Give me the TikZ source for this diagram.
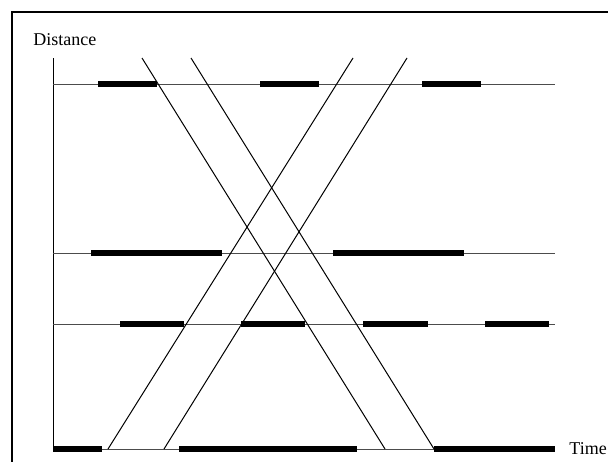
\documentclass[tikz,border=0pt]{standalone}
\usepackage{fontspec}
\setmainfont{Liberation Serif}
\begin{document}
\begin{tikzpicture}[x=0.5pt,y=-0.5pt,
  gridline/.style={line width=0.5pt,draw=black!70},
  bar/.style={line width=3pt},
  ray/.style={line width=0.5pt},
  lbl/.style={font=\fontsize{9}{10}\selectfont,inner sep=0pt}]
\useasboundingbox (0,0) rectangle (608,461);
\clip (0,0) rectangle (608,461);
\draw[line width=1pt] (12,12) rectangle (640,480);
% axis
\draw[ray] (53,58) -- (53,449);
\node[lbl,anchor=base west] (dist) at (33,45.5) {Distance};
\node[lbl,anchor=base west] (time) at (569,454) {Time};
% horizontal lines
\foreach \y in {84,253,324,449} \draw[gridline] (53,\y) -- (555,\y);
% bars row 1
\foreach \a/\b in {98/157,260/319,422/481} \draw[bar] (\a,84) -- (\b,84);
% bars row 2
\foreach \a/\b in {91/222,333/464} \draw[bar] (\a,253) -- (\b,253);
% bars row 3
\foreach \a/\b in {120/184,241/305,363/428,485/549} \draw[bar] (\a,324) -- (\b,324);
% bars row 4
\foreach \a/\b in {53/102,179/357,434/555} \draw[bar] (\a,449) -- (\b,449);
% rays
\draw[ray] (142,58) -- (385,449);
\draw[ray] (191,58) -- (434,449);
\draw[ray] (108,449) -- (353,58);
\draw[ray] (164,449) -- (407,58);
\end{tikzpicture}
\end{document}
